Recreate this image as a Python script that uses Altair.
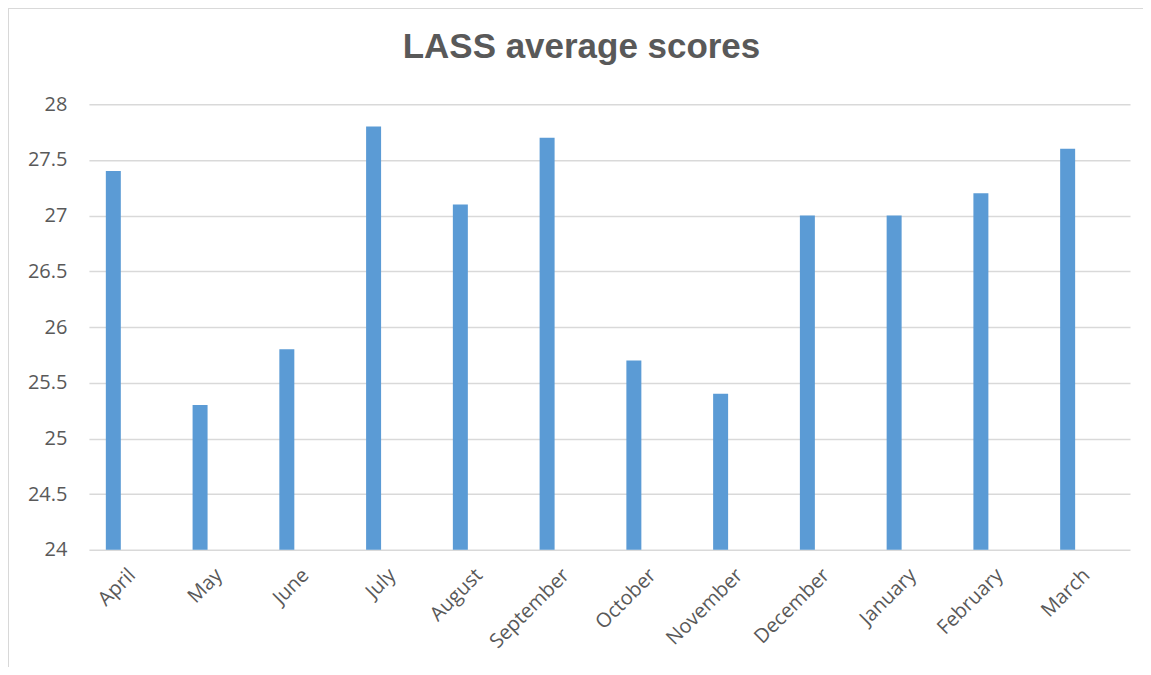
import altair as alt
import pandas as pd

months = ["April", "May", "June", "July", "August", "September", "October",
          "November", "December", "January", "February", "March"]
scores = [27.4, 25.3, 25.8, 27.8, 27.1, 27.7, 25.7, 25.4, 27.0, 27.0, 27.2, 27.6]

df = pd.DataFrame({"month": months, "score": scores})

GRID = "#D9D9D9"
TEXT = "#595959"

x_enc = alt.X("month:N", sort=months, title=None,
              scale=alt.Scale(paddingInner=0, paddingOuter=0),
              axis=alt.Axis(labelAngle=-45, labelAlign="right", labelBaseline="middle",
                            labelPadding=22, labelFontSize=20, labelFont="Open Sans",
                            labelColor=TEXT, ticks=False, domain=False, grid=False))
y_enc = alt.Y("score:Q", title=None,
              scale=alt.Scale(domain=[24, 28], nice=False, zero=False, clamp=True),
              axis=alt.Axis(values=[24, 24.5, 25, 25.5, 26, 26.5, 27, 27.5, 28],
                            format="~g",
                            labelFontSize=20, labelFont="Open Sans", labelColor=TEXT,
                            labelPadding=22, ticks=False, domain=False,
                            gridColor=GRID, gridWidth=1.5))

bars = alt.Chart(df).mark_bar(size=15, xOffset=-19, color="#5B9BD5").encode(
    x=x_enc, y=y_enc
)

border_left = alt.Chart(df).mark_rule(color=GRID, strokeWidth=1.5).encode(
    x=alt.value(-81), y=alt.value(-96), y2=alt.value(580)
)
border_top = alt.Chart(df).mark_rule(color=GRID, strokeWidth=1.5).encode(
    x=alt.value(-81), x2=alt.value(1070), y=alt.value(-96)
)

chart = alt.layer(border_left, border_top, bars).properties(
    width=1042,
    height=446,
    padding={"left": 81, "top": 96, "right": 13, "bottom": 117},
    autosize=alt.AutoSizeParams(type="none"),
    title=alt.TitleParams("LASS average scores", fontSize=35, font="Liberation Sans",
                          fontWeight="bold", color=TEXT, anchor="middle", dx=-28,
                          baseline="alphabetic", offset=-86),
).configure(background="white").configure_view(strokeWidth=0, stroke="transparent")

chart.save("out.html", embed_options={"renderer": "svg", "actions": False})
